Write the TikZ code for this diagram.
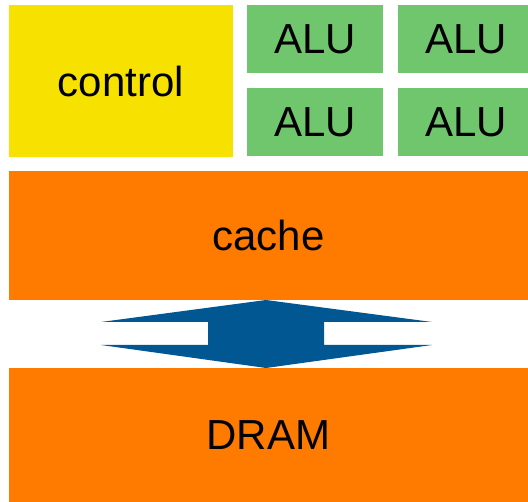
\documentclass[tikz,border=0pt]{standalone}
\usepackage{fontspec}
\setmainfont{Liberation Sans}
\usetikzlibrary{calc}
\definecolor{ctrlyellow}{HTML}{F7E100}
\definecolor{alugreen}{HTML}{70C66D}
\definecolor{memorange}{HTML}{FF7B00}
\definecolor{arrowblue}{HTML}{005792}
\begin{document}
\begin{tikzpicture}[x=1pt,y=-1pt,
  block/.style={rectangle,inner sep=0pt,outer sep=0pt,anchor=north west,
    font=\fontsize{42}{42}\selectfont,text=black},
  ctrlbox/.style={block,fill=ctrlyellow},
  alubox/.style={block,fill=alugreen,minimum width=136pt,minimum height=68pt},
  membox/.style={block,fill=memorange,minimum width=519pt}]
\useasboundingbox (0,0) rectangle (528,502);
\begin{scope}
\clip (0,0) rectangle (528,502);
\node[ctrlbox,minimum width=224pt,minimum height=152pt] (ctrl) at (9,5) {control};
\node[alubox] (alu1) at (247,5) {ALU};
\node[alubox] (alu2) at (398,5) {ALU};
\node[alubox] (alu3) at (247,88) {ALU};
\node[alubox] (alu4) at (398,88) {ALU};
\node[membox,minimum height=129pt] (cache) at (9,171) {cache};
\node[membox,minimum height=134pt] (dram) at (9,368) {DRAM};
\fill[arrowblue] ($(cache.south)+(-2.5,0)$) -- (432,322) -- (324,322) -- (324,345) -- (432,345)
  -- ($(dram.north)+(-2.5,0)$) -- (101,345) -- (208,345) -- (208,322) -- (101,322) -- cycle;
\end{scope}
\end{tikzpicture}
\end{document}
